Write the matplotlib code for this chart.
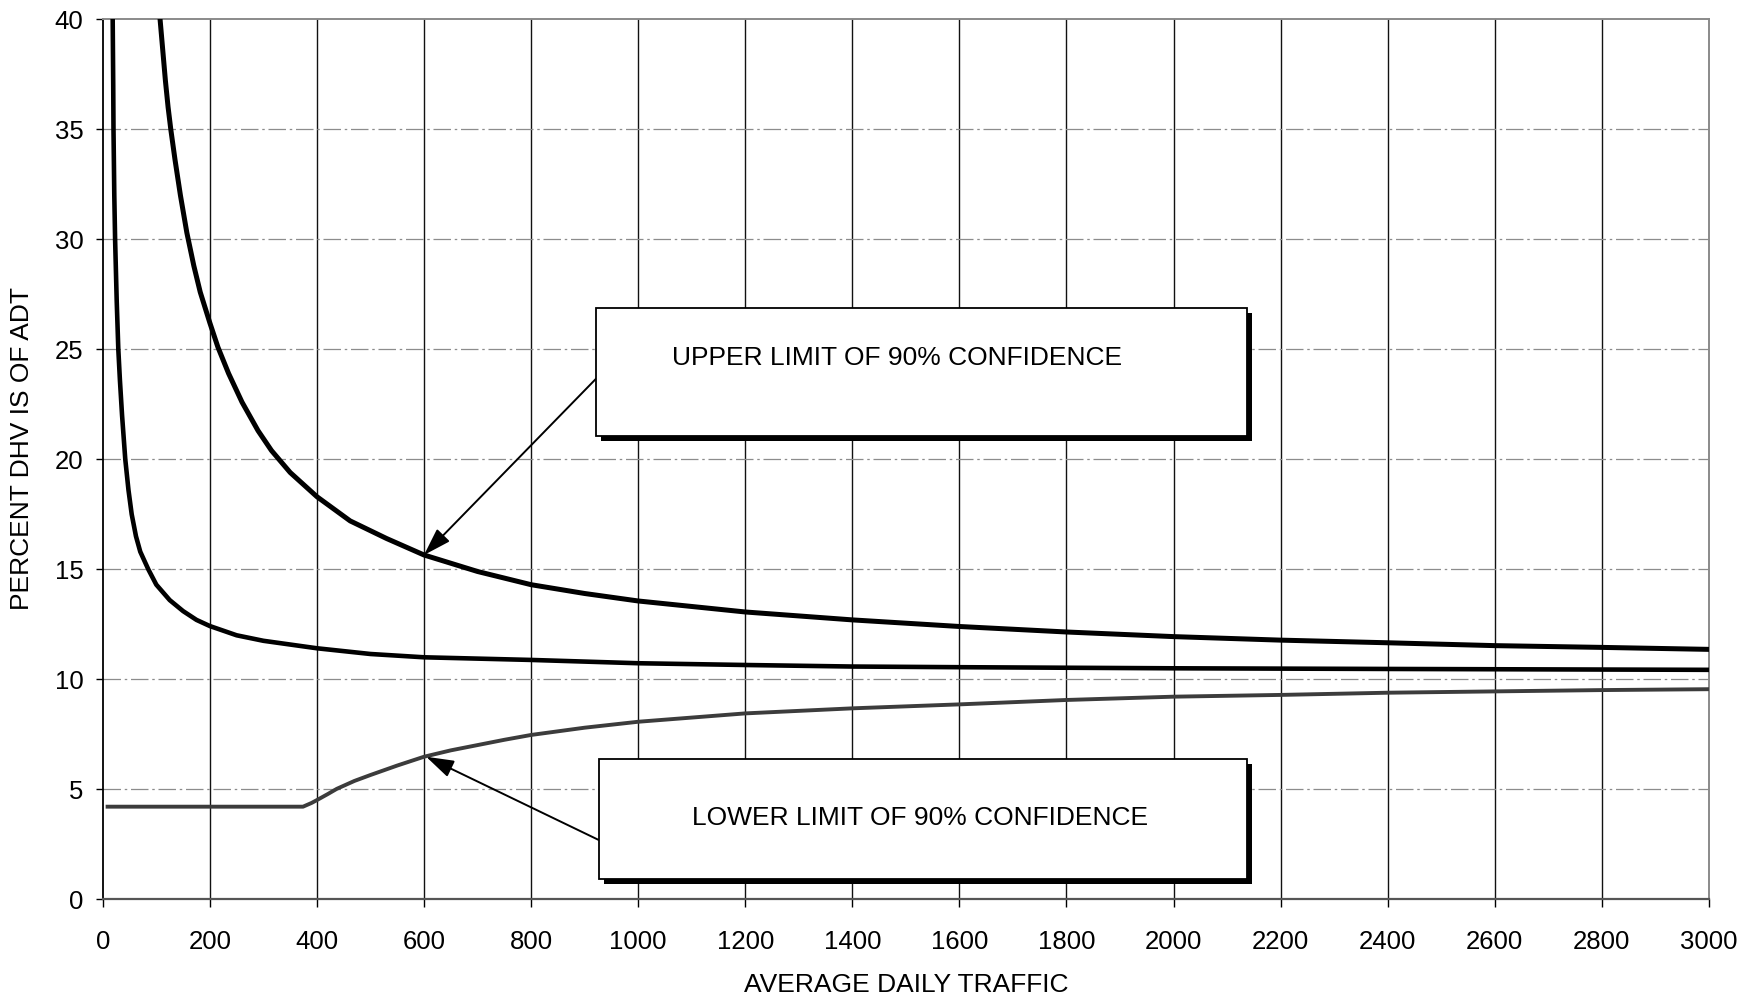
import numpy as np
import matplotlib
matplotlib.use('Agg')
import matplotlib.pyplot as plt
from matplotlib.patches import Rectangle
from matplotlib.transforms import offset_copy

plt.rcParams['font.family'] = ['Liberation Sans', 'DejaVu Sans']

# values (ADT, percent)
adtUpper = [104, 107, 112, 117, 122, 127, 135, 145, 157, 170, 182, 200, 215, 235, 260, 290, 315, 350,
            400, 462, 530, 600, 700, 800, 900, 1000, 1200, 1400, 1600, 1800, 2000, 2200, 2400, 2600,
            2800, 3000]
pctUpper = [41.0, 40.0, 38.6, 37.2, 36.0, 35.0, 33.6, 32.0, 30.3, 28.8, 27.6, 26.2, 25.1, 23.9, 22.6,
            21.3, 20.4, 19.4, 18.3, 17.2, 16.4, 15.65, 14.9, 14.3, 13.9, 13.56, 13.06, 12.7, 12.4,
            12.15, 11.94, 11.78, 11.66, 11.53, 11.45, 11.36]

adtMean = [18.2, 18.5, 19.5, 20, 21.5, 23, 26, 29, 32, 36, 42, 48, 54, 62, 70, 85, 100, 125, 150, 175,
           200, 250, 300, 400, 500, 600, 800, 1000, 1200, 1400, 1600, 2000, 2400, 3000]
pctMean = [42.0, 40.0, 37.0, 35.0, 32.0, 30.0, 27.2, 25.0, 23.6, 22.0, 20.0, 18.6, 17.5, 16.5, 15.8,
           15.0, 14.3, 13.6, 13.1, 12.7, 12.42, 12.0, 11.75, 11.41, 11.15, 11.0, 10.88, 10.73, 10.65,
           10.58, 10.55, 10.5, 10.47, 10.43]

adtLower = [9, 374, 390, 400, 420, 437, 470, 500, 550, 600, 650, 700, 750, 800, 900, 1000, 1200, 1400,
            1600, 1800, 2000, 2200, 2400, 2600, 2800, 3000]
pctLower = [4.21, 4.21, 4.38, 4.51, 4.78, 5.02, 5.38, 5.65, 6.08, 6.48, 6.77, 7.01, 7.25, 7.47, 7.8,
            8.07, 8.45, 8.68, 8.86, 9.06, 9.21, 9.29, 9.39, 9.45, 9.51, 9.55]

xTicks = list(range(0, 3001, 200))
yTicks = list(range(0, 41, 5))

upperText = 'UPPER LIMIT OF 90% CONFIDENCE'
lowerText = 'LOWER LIMIT OF 90% CONFIDENCE'

fig = plt.figure(figsize=(17.51, 9.99), dpi=100)
ax = fig.add_axes([0.0587, 0.0998, 0.9173, 0.8809])

ax.set_xlim(0, 3000)
ax.set_ylim(0, 40)
ax.set_xticks(xTicks)
ax.set_yticks(yTicks)

# grid: solid verticals, dash-dot horizontals
for x in xTicks[1:-1]:
  ax.axvline(x, color='#111111', lw=1.0, zorder=1)
for y in yTicks[1:-1]:
  ax.axhline(y, color='#8c8c8c', lw=0.9, dashes=(14, 3, 2, 3), zorder=1)

ax.plot(adtUpper, pctUpper, color='black', lw=3.6, zorder=4)
ax.plot(adtMean, pctMean, color='black', lw=3.3, zorder=4)
ax.plot(adtLower, pctLower, color='#3c3c3c', lw=2.8, zorder=4)

ax.spines['left'].set_color('black')
ax.spines['left'].set_linewidth(1.3)
ax.spines['bottom'].set_color('#555555')
ax.spines['bottom'].set_linewidth(1.6)
for s in ('top', 'right'):
  ax.spines[s].set_color('#8a8a8a')
  ax.spines[s].set_linewidth(1.4)

ax.tick_params(axis='x', direction='out', length=6, width=1, pad=16, labelsize=18.5)
ax.tick_params(axis='y', direction='out', length=5, width=1, pad=9, labelsize=18.5)

ax.set_xlabel('AVERAGE DAILY TRAFFIC', fontsize=19)
ax.xaxis.set_label_coords(0.5, -0.084)
ax.set_ylabel('PERCENT DHV IS OF ADT', fontsize=19)
ax.yaxis.set_label_coords(-0.043, 0.512)

# callout boxes with drop shadow and arrow
shadowTrans = offset_copy(ax.transData, fig=fig, x=5, y=-5, units='dots')
boxes = [
  (922, 2137, 21.06, 26.88, upperText, 1483, 24.6, (922, 23.68), (600, 15.65)),
  (926, 2137, 0.92, 6.38, lowerText, 1527, 3.7, (926, 2.7), (604, 6.48)),
]
for x0, x1, y0, y1, txt, tx, ty, start, tip in boxes:
  ax.add_patch(Rectangle((x0, y0), x1 - x0, y1 - y0, transform=shadowTrans,
                         facecolor='black', edgecolor='none', zorder=5))
  ax.add_patch(Rectangle((x0, y0), x1 - x0, y1 - y0, facecolor='white',
                         edgecolor='black', lw=1.3, zorder=6))
  ax.text(tx, ty, txt, ha='center', va='center', fontsize=19, zorder=7)
  ax.annotate('', xy=tip, xytext=start, zorder=5,
              arrowprops=dict(arrowstyle='-|>,head_length=1.0,head_width=0.32',
                              mutation_scale=17, color='black', lw=1.4,
                              shrinkA=0, shrinkB=0))

fig.savefig('out.png', dpi=100)
